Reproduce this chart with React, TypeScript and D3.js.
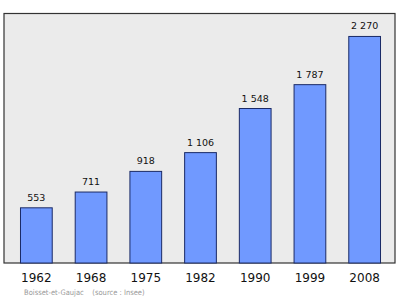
import React from "react";
import * as d3 from "d3";

const years = ["1962", "1968", "1975", "1982", "1990", "1999", "2008"];
const population = [553, 711, 918, 1106, 1548, 1787, 2270];
const valueLabels = ["553", "711", "918", "1 106", "1 548", "1 787", "2 270"];
const footer = "Boisset-et-Gaujac    (source : Insee)";

export default function App() {
  const W = 400, H = 299;
  const left = 4, right = 395, top = 13.5, bottom = 263;
  const x = d3.scaleBand<string>().domain(years).range([9, 392]).paddingInner(0.42).paddingOuter(0.21);
  const y = d3.scaleLinear().domain([0, 2500]).range([bottom, top]);
  return (
    <svg width={W} height={H} style={{ position: "absolute", left: 0, top: 0, background: "#fff" }}>
      <rect x={left} y={top} width={right - left} height={bottom - top} fill="#ebebeb" stroke="#333" strokeWidth={1.2} />
      {population.map((v, i) => {
        const bx = x(years[i])!;
        const bw = x.bandwidth();
        return (
          <g key={years[i]}>
            <rect x={bx} y={y(v)} width={bw} height={bottom - y(v)} fill="#7099ff" stroke="#1a2a66" strokeWidth={1} />
            <text x={bx + bw / 2} y={y(v) - 7} textAnchor="middle" fontFamily="DejaVu Sans" fontSize={9.5} fill="#111">{valueLabels[i]}</text>
            <text x={bx + bw / 2} y={282} textAnchor="middle" fontFamily="DejaVu Sans" fontSize={12} fill="#111">{years[i]}</text>
          </g>
        );
      })}
      <text x={24} y={295} fontFamily="DejaVu Sans Condensed" fontSize={7.5} fill="#999" xmlSpace="preserve">{footer}</text>
    </svg>
  );
}
